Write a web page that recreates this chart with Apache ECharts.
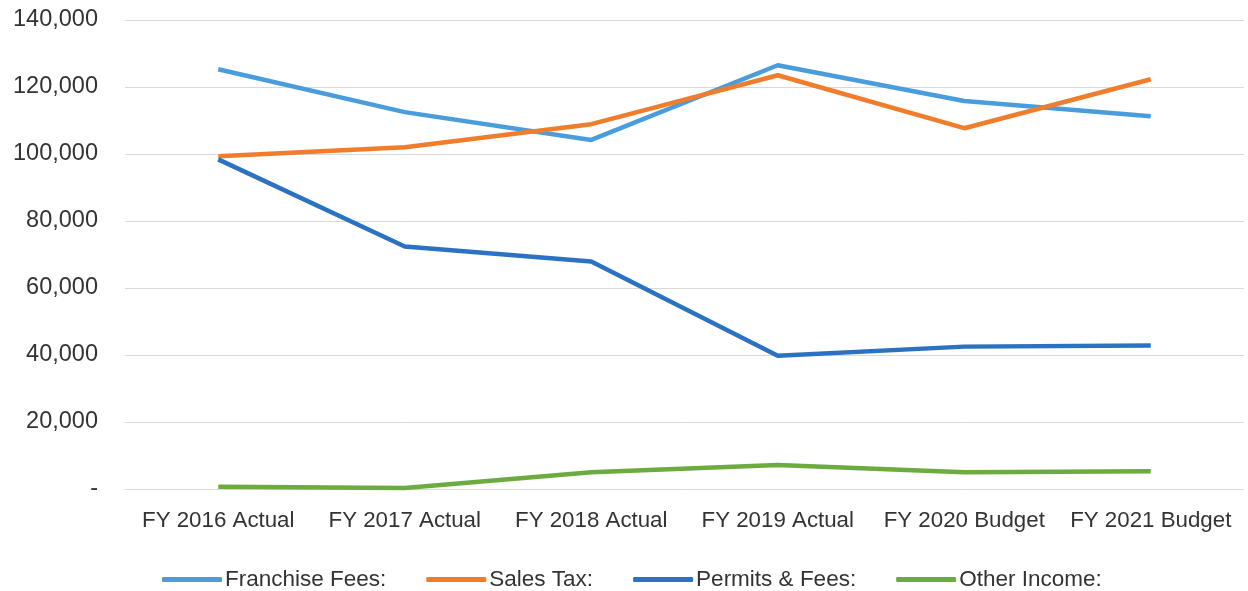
<!DOCTYPE html>
<html><head><meta charset="utf-8">
<script src="https://cdn.jsdelivr.net/npm/echarts@6/dist/echarts.min.js"></script>
<style>html,body{margin:0;padding:0;background:#fff}#c{width:1248px;height:591px}</style>
</head><body><div id="c"></div>
<script>
const categories = ['FY 2016 Actual','FY 2017 Actual','FY 2018 Actual','FY 2019 Actual','FY 2020 Budget','FY 2021 Budget'];
const franchiseFees = [125300, 112500, 104200, 126500, 115800, 111300];
const salesTax = [99300, 102000, 108900, 123500, 107700, 122300];
const permitsFees = [98400, 72400, 67900, 39800, 42500, 42800];
const otherIncome = [700, 300, 5000, 7200, 5000, 5300];
const yTicks = {min: 0, max: 140000, interval: 20000};

const font = 'Liberation Sans';
const chart = echarts.init(document.getElementById('c'));
function mk(name, data, color){
  return {name, type:'line', data, symbol:'none', smooth:false,
    lineStyle:{width:4.5, color}, itemStyle:{color}};
}
chart.setOption({
  animation:false,
  grid:{left:125, right:4, top:20, bottom:102},
  legend:{bottom:-5, left:157, itemWidth:60, itemHeight:5, itemGap:40,
    icon:'roundRect',
    textStyle:{fontFamily:font, fontSize:22.5, color:'#333', padding:[0,0,0,-2]},
    data:['Franchise Fees:','Sales Tax:','Permits & Fees:','Other Income:']},
  xAxis:{type:'category', data:categories, boundaryGap:true,
    axisLine:{show:false}, axisTick:{show:false},
    axisLabel:{fontFamily:font, fontSize:22.3, color:'#333', margin:21, interval:0}},
  yAxis:{type:'value', min:yTicks.min, max:yTicks.max, interval:yTicks.interval,
    axisLine:{show:false}, axisTick:{show:false},
    splitLine:{lineStyle:{color:'#d9d9d9', width:1}},
    axisLabel:{fontFamily:font, fontSize:23.5, color:'#333', margin:27, padding:[6,0,0,0],
      formatter:v => v === 0 ? '-' : v.toLocaleString('en-US')}},
  series:[
    mk('Franchise Fees:', franchiseFees, '#4a9ddc'),
    mk('Sales Tax:', salesTax, '#ef7d2c'),
    mk('Permits & Fees:', permitsFees, '#2b73c2'),
    mk('Other Income:', otherIncome, '#6cab3f')
  ]
});
</script></body></html>
